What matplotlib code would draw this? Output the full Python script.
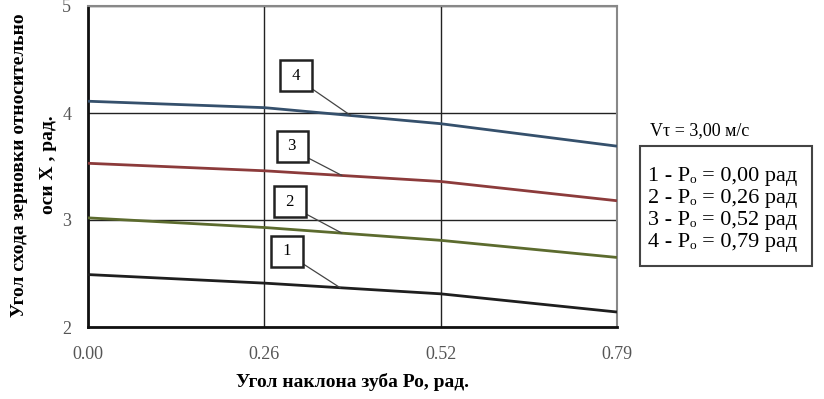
import matplotlib
matplotlib.use('Agg')
import matplotlib.pyplot as plt

# data
x_ticks = [0.00, 0.26, 0.52, 0.79]
x_labels = ['0.00', '0.26', '0.52', '0.79']
curve_1 = [2.49, 2.41, 2.31, 2.14]
curve_2 = [3.02, 2.93, 2.81, 2.65]
curve_3 = [3.53, 3.46, 3.36, 3.18]
curve_4 = [4.11, 4.05, 3.90, 3.69]
curve_names = ['1', '2', '3', '4']
legend_lines = ['1 - Pₒ = 0,00 рад', '2 - Pₒ = 0,26 рад',
                '3 - Pₒ = 0,52 рад', '4 - Pₒ = 0,79 рад']

plt.rcParams['font.family'] = ['Liberation Serif', 'DejaVu Serif']

fig = plt.figure(figsize=(8.24, 3.99), dpi=100)
ax = fig.add_axes([88 / 824, 1 - 327 / 399, (617 - 88) / 824, (327 - 6) / 399])

# equal spacing of the category positions, as in the original
pos = list(range(len(x_ticks)))
curves = [curve_1, curve_2, curve_3, curve_4]
colors = ['#1e1e1e', '#5c6b2e', '#8c3b3b', '#35506c']
for ys, c in zip(curves, colors):
    ax.plot(pos, ys, color=c, lw=2.0, solid_capstyle='butt', zorder=3)

ax.set_xlim(0, 3)
ax.set_ylim(2, 5)
ax.set_xticks(pos)
ax.set_xticklabels(x_labels)
ax.set_yticks([2, 3, 4, 5])
ax.tick_params(length=0, labelsize=13, labelcolor='#555555')
ax.tick_params(axis='x', pad=14)
ax.tick_params(axis='y', pad=12)
ax.grid(True, color='#222222', lw=1.0)
ax.set_axisbelow(True)
for side in ['left', 'bottom']:
    ax.spines[side].set_color('#111111')
    ax.spines[side].set_linewidth(2.0)
for side in ['top', 'right']:
    ax.spines[side].set_color('#888888')
    ax.spines[side].set_linewidth(1.5)

# numbered callouts with leader lines
box_xy = [(1.13, 2.71), (1.145, 3.17), (1.16, 3.69), (1.18, 4.35)]
target_t = [0.43, 0.44, 0.44, 0.49]
for name, ys, (bx, by), t in zip(curve_names, curves, box_xy, target_t):
    px = 1 + t
    py = ys[1] + (ys[2] - ys[1]) * t
    ax.annotate(' ' + name + ' ', xy=(px, py), xytext=(bx, by), fontsize=12,
                ha='center', va='center', zorder=4,
                bbox=dict(boxstyle='square,pad=0.45', fc='white', ec='#222222', lw=1.8),
                arrowprops=dict(arrowstyle='-', color='#444444', lw=0.9,
                                shrinkA=0, shrinkB=0, relpos=(1.0, 0.0)))

fig.text(352 / 824, 1 - 382 / 399, 'Угол наклона зуба Ро, рад.', fontsize=14,
         fontweight='bold', ha='center', va='center')
fig.text(34 / 824, 1 - 165 / 399, 'Угол схода зерновки относительно\nоси X , рад.',
         rotation=90, ha='center', va='center', fontsize=14, fontweight='bold',
         linespacing=1.9)

# legend block
fig.text(650 / 824, 1 - 131 / 399, 'Vτ = 3,00 м/с', fontsize=13, ha='left', va='center')
fig.patches.append(plt.Rectangle((640 / 824, 1 - 266 / 399), 172 / 824, 120 / 399,
                                 transform=fig.transFigure, fill=False,
                                 ec='#444444', lw=1.5))
for i, s in enumerate(legend_lines):
    fig.text(648 / 824, 1 - (176 + 22 * i) / 399, s, fontsize=16, ha='left', va='center')

fig.savefig('out.png', dpi=100, facecolor='white')
